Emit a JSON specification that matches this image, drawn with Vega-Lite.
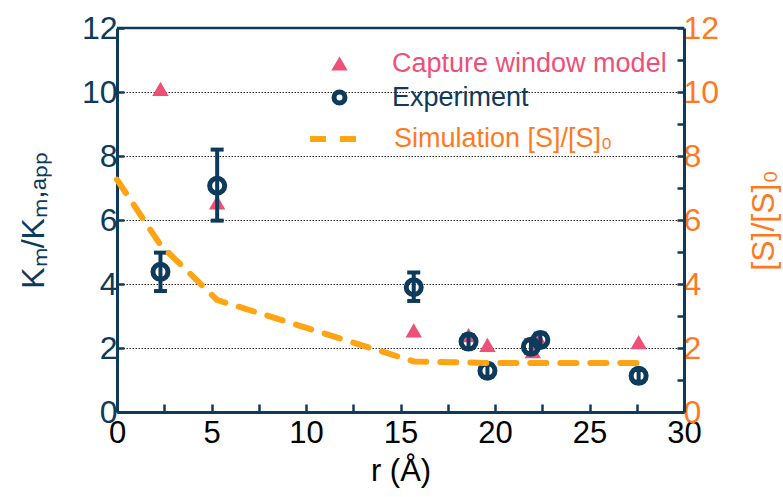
{
  "$schema": "https://vega.github.io/schema/vega-lite/v6.json",
  "width": 567,
  "height": 384,
  "autosize": {"type": "none"},
  "padding": {"left": 117, "top": 28, "right": 99, "bottom": 85},
  "background": "white",
  "config": {"view": {"stroke": null}, "font": "Liberation Sans"},
  "datasets": {
    "model": [
      {"r": 2.3, "v": 10.1},
      {"r": 5.3, "v": 6.55},
      {"r": 15.7, "v": 2.55},
      {"r": 18.6, "v": 2.4},
      {"r": 19.6, "v": 2.1},
      {"r": 22.0, "v": 1.9},
      {"r": 22.3, "v": 2.3},
      {"r": 27.6, "v": 2.18}
    ],
    "exp": [
      {"r": 2.3, "v": 4.38, "lo": 3.78, "hi": 4.98},
      {"r": 5.3, "v": 7.07, "lo": 5.98, "hi": 8.2},
      {"r": 15.7, "v": 3.9, "lo": 3.47, "hi": 4.36},
      {"r": 18.6, "v": 2.2, "lo": 2.0, "hi": 2.4},
      {"r": 19.6, "v": 1.29, "lo": 1.1, "hi": 1.48},
      {"r": 21.9, "v": 2.04, "lo": 1.84, "hi": 2.24},
      {"r": 22.4, "v": 2.25, "lo": 2.05, "hi": 2.45},
      {"r": 27.6, "v": 1.13, "lo": 0.95, "hi": 1.31}
    ],
    "sim": [
      {"r": 0, "s": 7.26},
      {"r": 2.3, "s": 5.22},
      {"r": 5.3, "s": 3.5},
      {"r": 15.7, "s": 1.58},
      {"r": 18.6, "s": 1.55},
      {"r": 19.6, "s": 1.53},
      {"r": 22.0, "s": 1.53},
      {"r": 27.6, "s": 1.53}
    ]
  },
  "layer": [
    {
      "layer": [
        {
          "data": {"name": "model"},
          "mark": {"type": "point", "filled": true, "size": 270, "opacity": 1, "shape": "triangle-up", "strokeWidth": 0},
          "encoding": {
            "x": {
              "field": "r", "type": "quantitative",
              "scale": {"domain": [0, 30], "nice": false, "zero": false},
              "axis": {
                "title": "r (Å)",
                "values": [0, 2.5, 5, 7.5, 10, 12.5, 15, 17.5, 20, 22.5, 25, 27.5, 30],
                "labelExpr": "datum.value % 5 === 0 ? datum.label : ''",
                "labelFontSize": 31,
                "labelColor": "#000000",
                "labelPadding": 14,
                "labelFlush": false,
                "labelOverlap": false,
                "titleFontSize": 31,
                "titleFontWeight": "normal",
                "titleColor": "#000000",
                "titlePadding": 8,
                "domainColor": "#0E3A5C",
                "domainWidth": 3,
                "tickColor": "#0E3A5C",
                "tickWidth": 2.5,
                "tickSize": -8,
                "grid": false
              }
            },
            "y": {
              "field": "v", "type": "quantitative",
              "scale": {"domain": [0, 12], "nice": false},
              "axis": {
                "title": "Kₘ/Kₘ,ₐₚₚ",
                "values": [0, 1, 2, 3, 4, 5, 6, 7, 8, 9, 10, 11, 12],
                "labelExpr": "datum.value % 2 === 0 ? datum.label : ''",
                "labelFontSize": 32,
                "labelColor": "#0E3A5C",
                "labelPadding": 7,
                "labelFlush": false,
                "labelOverlap": false,
                "titleFontSize": 32,
                "titleFontWeight": "normal",
                "titleColor": "#0E3A5C",
                "titlePadding": 31,
                "domainColor": "#0E3A5C",
                "domainWidth": 3,
                "tickColor": "#0E3A5C",
                "tickWidth": 2.5,
                "tickSize": -7,
                "grid": true,
                "gridColor": "#2A2A2A",
                "gridDash": [1.5, 1.5],
                "gridWidth": 1
              }
            },
            "color": {
              "datum": "Capture window model",
              "type": "nominal",
              "scale": {"domain": ["Capture window model"], "range": ["#EF5078"]},
              "legend": {
                "title": null,
                "orient": "none",
                "legendX": 209,
                "legendY": 22,
                "padding": 0,
                "symbolType": "triangle-up",
                "symbolSize": 270,
                "symbolFillColor": "#EF5078",
                "symbolStrokeWidth": 0,
                "labelFontSize": 27,
                "labelColor": "#EF5078",
                "labelOffset": 39,
                "labelLimit": 400
              }
            }
          }
        },
        {
          "data": {"values": [{"frame": "top"}]},
          "mark": {"type": "rule", "color": "#0E3A5C", "strokeWidth": 2.5},
          "encoding": {"y": {"datum": 12, "type": "quantitative"}}
        },
        {
          "data": {"name": "exp"},
          "mark": {"type": "rule", "color": "#0E3A5C", "strokeWidth": 4},
          "encoding": {
            "x": {"field": "r", "type": "quantitative"},
            "y": {"field": "lo", "type": "quantitative"},
            "y2": {"field": "hi"}
          }
        },
        {
          "data": {"name": "exp"},
          "mark": {"type": "tick", "orient": "horizontal", "color": "#0E3A5C", "size": 13, "thickness": 4, "opacity": 1},
          "encoding": {
            "x": {"field": "r", "type": "quantitative"},
            "y": {"field": "lo", "type": "quantitative"}
          }
        },
        {
          "data": {"name": "exp"},
          "mark": {"type": "tick", "orient": "horizontal", "color": "#0E3A5C", "size": 13, "thickness": 4, "opacity": 1},
          "encoding": {
            "x": {"field": "r", "type": "quantitative"},
            "y": {"field": "hi", "type": "quantitative"}
          }
        },
        {
          "data": {"name": "exp"},
          "mark": {"type": "point", "filled": false, "size": 225, "strokeWidth": 5, "opacity": 1},
          "encoding": {
            "x": {"field": "r", "type": "quantitative"},
            "y": {"field": "v", "type": "quantitative"},
            "stroke": {
              "datum": "Experiment",
              "type": "nominal",
              "scale": {"domain": ["Experiment"], "range": ["#0E3A5C"]},
              "legend": {
                "title": null,
                "orient": "none",
                "legendX": 209,
                "legendY": 56,
                "padding": 0,
                "symbolType": "circle",
                "symbolSize": 120,
                "symbolFillColor": "transparent",
                "symbolStrokeWidth": 5,
                "labelFontSize": 27,
                "labelColor": "#0E3A5C",
                "labelOffset": 39,
                "labelLimit": 400
              }
            }
          }
        }
      ]
    },
    {
      "data": {"name": "sim"},
      "mark": {"type": "line", "color": "#FFA413", "strokeWidth": 6, "strokeDash": [16, 14], "strokeCap": "round", "strokeJoin": "round"},
      "encoding": {
        "x": {"field": "r", "type": "quantitative"},
        "y": {
          "field": "s", "type": "quantitative",
          "scale": {"domain": [0, 12], "nice": false},
          "axis": {
            "orient": "right",
            "title": "[S]/[S]₀",
            "titleAngle": 270,
            "values": [0, 1, 2, 3, 4, 5, 6, 7, 8, 9, 10, 11, 12],
            "labelExpr": "datum.value % 2 === 0 ? datum.label : ''",
            "labelFontSize": 32,
            "labelColor": "#FF7A1F",
            "labelPadding": 6,
            "labelFlush": false,
            "labelOverlap": false,
            "titleFontSize": 32,
            "titleFontWeight": "normal",
            "titleColor": "#FF7A1F",
            "titlePadding": 62,
            "domainColor": "#0E3A5C",
            "domainWidth": 3,
            "tickColor": "#0E3A5C",
            "tickWidth": 2.5,
            "tickSize": -7,
            "grid": false
          }
        },
        "strokeDash": {
          "datum": "Simulation [S]/[S]₀",
          "type": "nominal",
          "scale": {"domain": ["Simulation [S]/[S]₀"], "range": [[16, 14]]},
          "legend": {
            "title": null,
            "orient": "none",
            "legendX": 190,
            "legendY": 84,
            "padding": 0,
            "symbolType": "stroke",
            "symbolSize": 2300,
            "symbolStrokeColor": "#FFA413",
            "symbolStrokeWidth": 6,
            "labelFontSize": 27,
            "labelColor": "#FF7A1F",
            "labelOffset": 33,
            "labelLimit": 400
          }
        }
      }
    }
  ],
  "resolve": {"scale": {"y": "independent"}}
}
